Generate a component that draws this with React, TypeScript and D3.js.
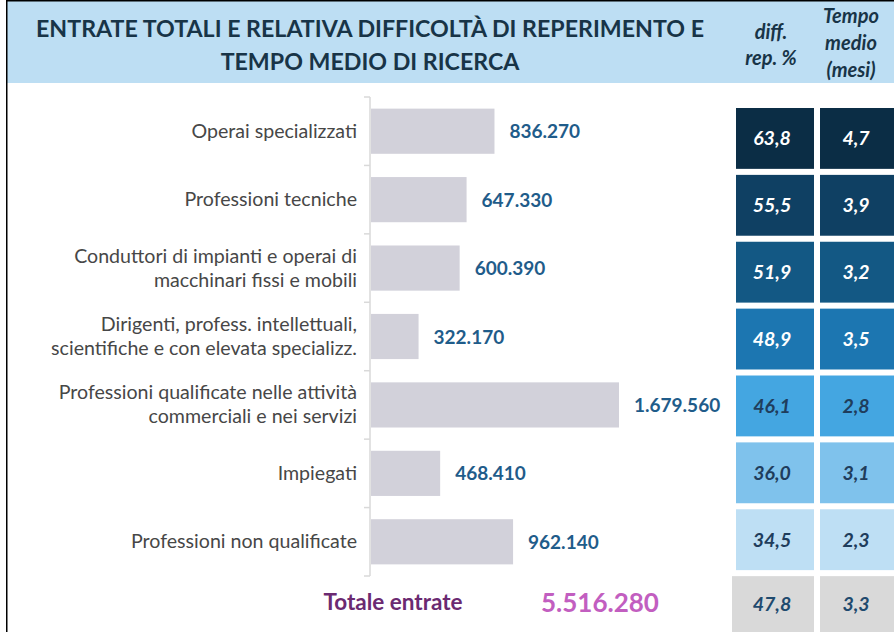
import React from "react";
import * as d3 from "d3";

const categories: string[][] = [
  ["Operai specializzati"],
  ["Professioni tecniche"],
  ["Conduttori di impianti e operai di", "macchinari fissi e mobili"],
  ["Dirigenti, profess. intellettuali,", "scientifiche e con elevata specializz."],
  ["Professioni qualificate nelle attività", "commerciali e nei servizi"],
  ["Impiegati"],
  ["Professioni non qualificate"],
];
const entrate: number[] = [836270, 647330, 600390, 322170, 1679560, 468410, 962140];
const diffRep: number[] = [63.8, 55.5, 51.9, 48.9, 46.1, 36.0, 34.5];
const tempoMedio: number[] = [4.7, 3.9, 3.2, 3.5, 2.8, 3.1, 2.3];
const cellColors: string[] = ["#0B2D45", "#0F4063", "#135884", "#1C76B1", "#44A6E1", "#7FC2EC", "#BEDFF4"];
const totalLabel = "Totale entrate";
const totalEntrate = 5516280;
const totalDiff = 47.8;
const totalTempo = 3.3;
const titleLines: string[] = ["ENTRATE TOTALI E RELATIVA DIFFICOLTÀ DI REPERIMENTO E", "TEMPO MEDIO DI RICERCA"];
const colHeaders: string[][] = [["diff.", "rep. %"], ["Tempo", "medio", "(mesi)"]];

const it = d3.formatLocale({ decimal: ",", thousands: ".", grouping: [3], currency: ["€", ""] });
const fmtInt = it.format(",d");
const fmt1 = it.format(".1f");

const FONT = "Lato, 'Noto Sans', sans-serif";

export default function App() {
  const W = 894, H = 632;
  const keys = categories.map((c) => c.join(" "));
  const x = d3.scaleLinear().domain([0, d3.max(entrate) as number]).range([371, 619]);
  const y = d3.scaleBand<string>().domain(keys).range([97, 576]).paddingInner(0.34).paddingOuter(0.17);
  const rowKeys = [...keys, "TOT"];
  const ry = d3.scaleBand<string>().domain(rowKeys).range([108, 637]).paddingInner(0.09).paddingOuter(0);
  const cx = d3.scaleBand<string>().domain(["diff", "tempo"]).range([736, 898]).paddingInner(0.0714).paddingOuter(0);
  const step = y.step();
  const boundaries = d3.range(keys.length + 1).map((i) => 97 + i * step);

  return (
    <svg width={W} height={H} style={{ position: "fixed", left: 0, top: 0, background: "#fff" }} fontFamily={FONT}>
      <rect x={0} y={0} width={W} height={H} fill="#fff" />
      {/* header */}
      <rect x={7} y={1} width={W - 7} height={82} fill="#BDDEF3" />
      <line x1={6} x2={W} y1={0.75} y2={0.75} stroke="#000" strokeWidth={1.5} />
      <line x1={6.75} x2={6.75} y1={0} y2={H} stroke="#000" strokeWidth={1.5} />
      {titleLines.map((t, i) => (
        <text key={i} x={370} y={37 + i * 33} textAnchor="middle" fontSize={23.2} fontWeight={700} fill="#183447">
          {t}
        </text>
      ))}
      {colHeaders[0].map((t, i) => (
        <text key={"a" + i} x={771} y={39 + i * 26} textAnchor="middle" fontSize={20} fontWeight={700} fontStyle="italic" fill="#183447">
          {t}
        </text>
      ))}
      {colHeaders[1].map((t, i) => (
        <text key={"b" + i} x={851} y={23 + i * 27} textAnchor="middle" fontSize={20} fontWeight={700} fontStyle="italic" fill="#183447">
          {t}
        </text>
      ))}

      {/* bars */}
      {keys.map((k, i) => (
        <rect key={k} x={x(0)} y={y(k)} width={x(entrate[i]) - x(0)} height={y.bandwidth()} fill="#D2D1DA" />
      ))}
      {/* axis */}
      <line x1={370} x2={370} y1={boundaries[0]} y2={boundaries[boundaries.length - 1]} stroke="#D9D9D9" strokeWidth={1.5} />
      {boundaries.map((b, i) => (
        <line key={i} x1={364} x2={370} y1={b} y2={b} stroke="#D9D9D9" strokeWidth={1.5} />
      ))}
      {/* category labels */}
      {categories.map((lines, i) => {
        const c = (y(keys[i]) as number) + y.bandwidth() / 2;
        return lines.map((ln, j) => (
          <text key={i + "-" + j} x={357} y={c + 6.5 + (j - (lines.length - 1) / 2) * 24} textAnchor="end" fontSize={19.6} fill="#474747">
            {ln}
          </text>
        ));
      })}
      {/* value labels */}
      {keys.map((k, i) => (
        <text key={"v" + k} x={x(entrate[i]) + 15} y={(y(k) as number) + y.bandwidth() / 2 + 7} fontSize={19} fontWeight={700} fill="#1F5C8A">
          {fmtInt(entrate[i])}
        </text>
      ))}

      {/* cells */}
      {rowKeys.map((k, i) => {
        const isTot = k === "TOT";
        const fill = isTot ? "#D9D9D9" : cellColors[i];
        const dark = !isTot && i < 4;
        const tcol = dark ? "#FFFFFF" : isTot ? "#1F4A6E" : "#1F3D5C";
        const vals = isTot ? [totalDiff, totalTempo] : [diffRep[i], tempoMedio[i]];
        const top = ry(k) as number;
        const h = ry.bandwidth();
        return (
          <g key={"c" + k}>
            {(["diff", "tempo"] as const).map((col, j) => {
              const x0 = (cx(col) as number) - (isTot && j === 0 ? 4 : 0);
              const w = cx.bandwidth() + (isTot && j === 0 ? 4 : 0);
              return (
                <g key={col}>
                  <rect x={x0} y={top} width={w} height={h} fill={fill} />
                  <text x={(cx(col) as number) + cx.bandwidth() / 2 - 3} y={top + (isTot ? 35 : h / 2 + 7)} textAnchor="middle" fontSize={19.5} fontWeight={700} fontStyle="italic" fill={tcol}>
                    {fmt1(vals[j])}
                  </text>
                </g>
              );
            })}
          </g>
        );
      })}

      {/* total */}
      <text x={393} y={610} textAnchor="middle" fontSize={22.5} fontWeight={700} fill="#6B2A71">
        {totalLabel}
      </text>
      <text x={600} y={612} textAnchor="middle" fontSize={26} fontWeight={700} fill="#C25EC0">
        {fmtInt(totalEntrate)}
      </text>
    </svg>
  );
}
